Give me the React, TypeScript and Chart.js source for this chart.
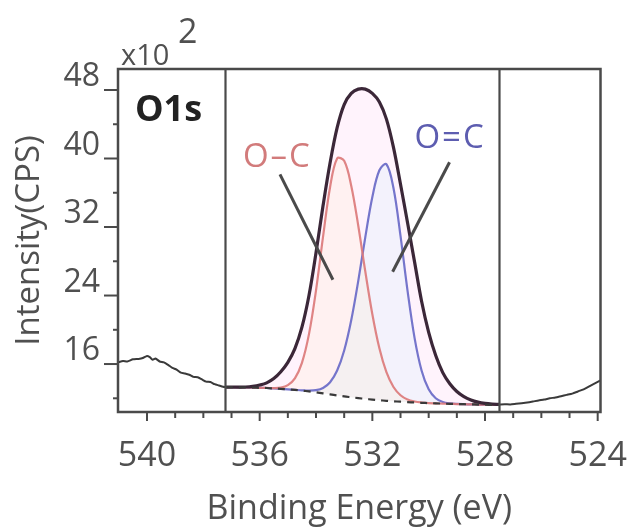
import React, { useEffect, useRef } from 'react';
import { Chart, registerables } from 'chart.js';

Chart.register(...registerables);

// ---- data (binding energy in eV, intensity in x10^2 CPS) ----
const fitEnergy = [537.2, 537.0, 536.75, 536.5, 536.25, 536.0, 535.75, 535.5, 535.25, 535.0, 534.75, 534.5, 534.25, 534.0, 533.75, 533.5, 533.25, 533.0, 532.75, 532.5, 532.25, 532.0, 531.75, 531.5, 531.25, 531.0, 530.75, 530.5, 530.25, 530.0, 529.75, 529.5, 529.25, 529.0, 528.75, 528.5, 528.25, 528.0, 527.75, 527.5];
const backgroundCounts = [13.3, 13.3, 13.28, 13.27, 13.25, 13.22, 13.2, 13.15, 13.1, 13.05, 12.98, 12.9, 12.8, 12.7, 12.58, 12.46, 12.34, 12.22, 12.12, 12.02, 11.93, 11.85, 11.78, 11.71, 11.65, 11.6, 11.55, 11.51, 11.47, 11.44, 11.41, 11.38, 11.35, 11.33, 11.31, 11.29, 11.27, 11.25, 11.23, 11.22];
const peakOCCounts = [13.3, 13.3, 13.28, 13.27, 13.25, 13.22, 13.21, 13.19, 13.25, 13.54, 14.33, 16.14, 19.49, 24.61, 30.87, 36.68, 40.01, 39.73, 36.83, 32.15, 26.8, 21.82, 17.84, 15.05, 13.32, 12.36, 11.86, 11.63, 11.51, 11.44, 11.41, 11.38, 11.35, 11.33, 11.31, 11.29, 11.27, 11.25, 11.23, 11.22];
const peakODCCounts = [13.3, 13.3, 13.28, 13.27, 13.25, 13.22, 13.2, 13.15, 13.1, 13.05, 12.99, 12.93, 12.89, 12.95, 13.21, 13.88, 15.24, 17.58, 21.11, 25.71, 30.82, 35.5, 38.63, 39.33, 36.55, 30.96, 24.54, 19.03, 15.22, 13.05, 12.01, 11.57, 11.4, 11.34, 11.31, 11.29, 11.27, 11.25, 11.23, 11.22];
const envelopeCounts = [13.3, 13.3, 13.3, 13.32, 13.4, 13.55, 13.8, 14.3, 15.1, 16.2, 17.8, 20.3, 24.0, 29.0, 34.5, 39.5, 43.6, 46.3, 47.6, 48.1, 48.1, 47.6, 46.6, 44.6, 41.3, 37.0, 32.5, 27.9, 23.3, 19.7, 17.0, 15.0, 13.7, 12.8, 12.2, 11.8, 11.55, 11.4, 11.32, 11.28];
const rawLeftEnergy = [541.03, 540.85, 540.7, 540.5, 540.3, 540.15, 540.0, 539.9, 539.8, 539.7, 539.55, 539.4, 539.25, 539.1, 538.95, 538.8, 538.65, 538.5, 538.35, 538.2, 538.05, 537.9, 537.75, 537.6, 537.45, 537.3, 537.2];
const rawLeftCounts = [16.2, 16.35, 16.3, 16.55, 16.6, 16.7, 16.95, 16.8, 16.5, 16.65, 16.3, 16.2, 15.9, 15.55, 15.35, 15.0, 14.9, 14.75, 14.5, 14.45, 14.2, 13.95, 13.9, 13.65, 13.5, 13.35, 13.3];
const rawRightEnergy = [527.5, 527.3, 527.1, 526.9, 526.7, 526.5, 526.3, 526.1, 525.9, 525.7, 525.5, 525.3, 525.1, 524.9, 524.7, 524.5, 524.3, 524.1, 523.9];
const rawRightCounts = [11.28, 11.3, 11.28, 11.35, 11.42, 11.5, 11.62, 11.75, 11.85, 12.0, 12.1, 12.25, 12.4, 12.55, 12.8, 13.05, 13.4, 13.75, 14.1];

const xMajorTicks = [540, 536, 532, 528, 524];
const xMinorTicks = [539, 538, 537, 535, 534, 533, 531, 530, 529, 527, 526, 525];
const yMajorTicks = [16, 24, 32, 40, 48];
const yMinorTicks = [12, 20, 28, 36, 44];
const regionBounds = [537.22, 527.5];

const xTitle = 'Binding Energy (eV)';
const yTitle = 'Intensity(CPS)';
const peakLabels = ['O\u2013C', 'O=C'];
const sampleLabel = 'O1s';
const multiplierText = 'x10';
const multiplierExp = '2';

const FONT = "'Open Sans', 'DejaVu Sans', sans-serif";
const TEXT = '#505050';
const FRAME = '#4a4a4a';

const toXY = (xs: number[], ys: number[]) => xs.map((x, i) => ({ x, y: ys[i] }));

const decorPlugin = {
  id: 'decor',
  beforeDraw(chart: any) {
    const { ctx, width, height } = chart;
    ctx.save();
    ctx.fillStyle = '#ffffff';
    ctx.fillRect(0, 0, width, height);
    ctx.restore();
  },
  afterDraw(chart: any) {
    const { ctx, chartArea, scales } = chart;
    const { left, right, top, bottom } = chartArea;
    const xs = scales.x;
    const ys = scales.y;
    ctx.save();
    // region boundary lines
    ctx.strokeStyle = FRAME;
    ctx.lineWidth = 2.2;
    regionBounds.forEach((e) => {
      const px = Math.round(xs.getPixelForValue(e)) + 0.5;
      ctx.beginPath();
      ctx.moveTo(px, top);
      ctx.lineTo(px, bottom);
      ctx.stroke();
    });
    // frame
    ctx.lineWidth = 2.5;
    ctx.strokeRect(left, top, right - left, bottom - top);
    // ticks
    ctx.lineWidth = 2;
    xMajorTicks.forEach((v) => {
      const px = xs.getPixelForValue(v);
      ctx.beginPath(); ctx.moveTo(px, bottom); ctx.lineTo(px, bottom + 9); ctx.stroke();
    });
    xMinorTicks.forEach((v) => {
      const px = xs.getPixelForValue(v);
      ctx.beginPath(); ctx.moveTo(px, bottom); ctx.lineTo(px, bottom + 6); ctx.stroke();
    });
    yMajorTicks.forEach((v) => {
      const py = ys.getPixelForValue(v);
      ctx.beginPath(); ctx.moveTo(left - 14, py); ctx.lineTo(left, py); ctx.stroke();
    });
    yMinorTicks.forEach((v) => {
      const py = ys.getPixelForValue(v);
      ctx.beginPath(); ctx.moveTo(left - 5, py); ctx.lineTo(left, py); ctx.stroke();
    });
    // leader lines
    ctx.strokeStyle = '#4a4a4a';
    ctx.lineWidth = 3;
    const lines = [
      [535.28, 38.15, 533.4, 25.84],
      [529.26, 39.56, 531.28, 26.78],
    ];
    lines.forEach(([x1, y1, x2, y2]) => {
      ctx.beginPath();
      ctx.moveTo(xs.getPixelForValue(x1), ys.getPixelForValue(y1));
      ctx.lineTo(xs.getPixelForValue(x2), ys.getPixelForValue(y2));
      ctx.stroke();
    });
    // labels
    ctx.textBaseline = 'alphabetic';
    ctx.textAlign = 'left';
    ctx.fillStyle = '#222222';
    ctx.font = `bold 36px ${FONT}`;
    ctx.fillText(sampleLabel, xs.getPixelForValue(540.43), ys.getPixelForValue(44.37));
    ctx.textAlign = 'center';
    ctx.font = `33px ${FONT}`;
    (ctx as any).letterSpacing = '2px';
    ctx.fillStyle = '#d27b7b';
    ctx.fillText(peakLabels[0], xs.getPixelForValue(535.37), ys.getPixelForValue(38.97));
    ctx.fillStyle = '#5d5db0';
    ctx.fillText(peakLabels[1], xs.getPixelForValue(529.24), ys.getPixelForValue(41.2));
    (ctx as any).letterSpacing = '0px';
    // multiplier
    ctx.textAlign = 'left';
    ctx.fillStyle = TEXT;
    ctx.font = `29px ${FONT}`;
    ctx.fillText(multiplierText, left + 3, top - 4);
    ctx.font = `34px ${FONT}`;
    ctx.fillText(multiplierExp, left + 60, top - 26);
    ctx.restore();
  },
};

export default function App() {
  const ref = useRef<HTMLCanvasElement | null>(null);
  useEffect(() => {
    if (!ref.current) return;
    const chart = new Chart(ref.current, {
      type: 'line',
      data: {
        datasets: [
          {
            label: 'Background',
            data: toXY(fitEnergy, backgroundCounts),
            borderColor: '#3a3a3a',
            borderWidth: 2.2,
            borderDash: [7, 6],
            pointRadius: 0,
            tension: 0.3,
            fill: false,
            order: 0,
          },
          {
            label: 'Envelope',
            data: toXY(fitEnergy, envelopeCounts),
            borderColor: '#3b2738',
            borderWidth: 3.2,
            pointRadius: 0,
            tension: 0.35,
            fill: { target: 0, above: 'rgba(255,195,238,0.2)', below: 'rgba(255,195,238,0.2)' },
            order: 1,
          },
          {
            label: 'O-C',
            data: toXY(fitEnergy, peakOCCounts),
            borderColor: 'rgba(220,120,120,0.9)',
            borderWidth: 2.2,
            pointRadius: 0,
            tension: 0.35,
            fill: { target: 0, above: 'rgba(255,245,190,0.2)', below: 'rgba(255,245,190,0.2)' },
            order: 2,
          },
          {
            label: 'O=C',
            data: toXY(fitEnergy, peakODCCounts),
            borderColor: 'rgba(110,110,200,0.95)',
            borderWidth: 2.2,
            pointRadius: 0,
            tension: 0.35,
            fill: { target: 0, above: 'rgba(190,250,255,0.22)', below: 'rgba(190,250,255,0.22)' },
            order: 3,
          },
          {
            label: 'Raw L',
            data: toXY(rawLeftEnergy, rawLeftCounts),
            borderColor: '#3a3a3a',
            borderWidth: 2,
            pointRadius: 0,
            tension: 0.2,
            fill: false,
            order: 4,
          },
          {
            label: 'Raw R',
            data: toXY(rawRightEnergy, rawRightCounts),
            borderColor: '#3a3a3a',
            borderWidth: 2,
            pointRadius: 0,
            tension: 0.2,
            fill: false,
            order: 5,
          },
        ],
      },
      options: {
        animation: false,
        responsive: false,
        devicePixelRatio: 1,
        layout: { padding: { left: 0, top: 69, right: 33.5, bottom: 0 } },
        plugins: {
          legend: { display: false },
          tooltip: { enabled: false },
          filler: { drawTime: 'beforeDatasetsDraw' },
        },
        scales: {
          x: {
            type: 'linear',
            reverse: true,
            min: 523.9,
            max: 541.03,
            afterBuildTicks: (s: any) => { s.ticks = xMajorTicks.map((v) => ({ value: v })); },
            afterFit: (s: any) => { s.height = 118; s.paddingLeft = 0; s.paddingRight = 0; },
            grid: { display: true, drawOnChartArea: false, drawTicks: false },
            border: { display: false },
            ticks: {
              autoSkip: false,
              maxRotation: 0,
              padding: 24,
              color: TEXT,
              font: { family: FONT, size: 34 },
              callback: (v: any) => String(v),
            },
            title: {
              display: true,
              text: xTitle,
              color: TEXT,
              font: { family: FONT, size: 34 },
              padding: { top: 0, bottom: 0 },
            },
          },
          y: {
            type: 'linear',
            min: 10.4,
            max: 50.45,
            afterBuildTicks: (s: any) => { s.ticks = yMajorTicks.map((v) => ({ value: v })); },
            afterFit: (s: any) => { s.width = 118; s.paddingTop = 0; s.paddingBottom = 0; },
            grid: { display: true, drawOnChartArea: false, drawTicks: false },
            border: { display: false },
            ticks: {
              autoSkip: false,
              padding: 18,
              labelOffset: -13,
              color: TEXT,
              font: { family: FONT, size: 32 },
              callback: (v: any) => String(v),
            },
            title: {
              display: true,
              text: yTitle,
              color: TEXT,
              font: { family: FONT, size: 33 },
              padding: { top: 10, bottom: 0 },
            },
          },
        },
      },
      plugins: [decorPlugin],
    } as any);
    return () => chart.destroy();
  }, []);
  return (
    <div style={{ position: 'fixed', left: 0, top: 0, width: 634, height: 530, background: '#fff' }}>
      <canvas ref={ref} width={634} height={530} />
    </div>
  );
}
